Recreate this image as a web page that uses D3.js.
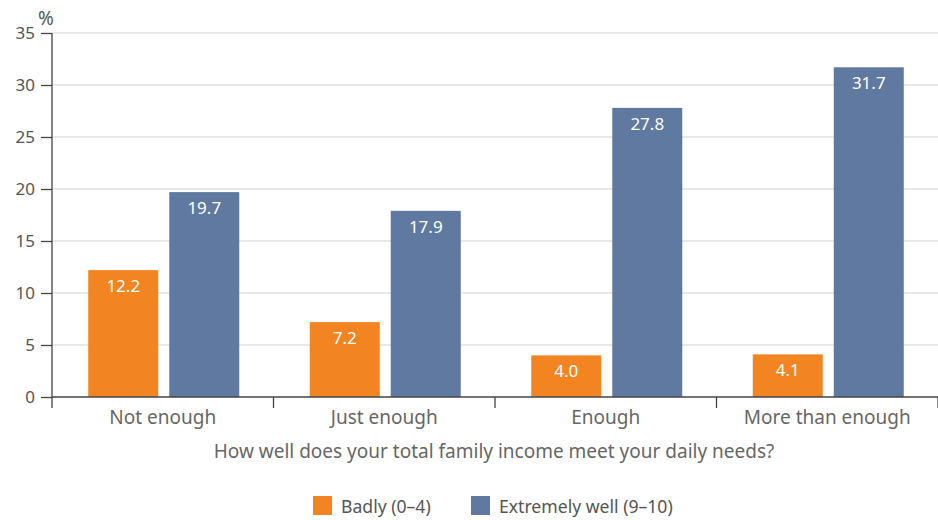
<!DOCTYPE html>
<html>
<head>
<meta charset="utf-8">
<script src="https://cdn.jsdelivr.net/npm/d3@7"></script>
<style>
  html, body { margin: 0; padding: 0; background: #fff; }
  svg { display: block; font-family: "Noto Sans", "Open Sans", sans-serif; }
</style>
</head>
<body>
<svg id="chart" width="938" height="520"></svg>
<script>
// Income adequacy categories and share (%) reporting each wellbeing level
const categories = ["Not enough", "Just enough", "Enough", "More than enough"];
const seriesNames = ["Badly (0–4)", "Extremely well (9–10)"];
const badly = [12.2, 7.2, 4.0, 4.1];
const extremelyWell = [19.7, 17.9, 27.8, 31.7];
const yTicks = [0, 5, 10, 15, 20, 25, 30, 35];
const colors = ["#F28421", "#5F79A0"];

const svg = d3.select("#chart");
const margin = { left: 52, right: 0, top: 33, bottom: 123 };
const width = 938, height = 520;
const plotBottom = height - margin.bottom;

const x = d3.scaleBand().domain(categories).range([margin.left, width - margin.right]).padding(0);
const y = d3.scaleLinear().domain([0, 35]).range([plotBottom, margin.top]);

const barW = 70, gap = 11;
const xs = d3.scaleOrdinal().domain(seriesNames).range([-(barW + gap / 2) + 1, gap / 2 + 1]);

// horizontal gridlines
svg.append("g")
  .selectAll("line")
  .data(yTicks.filter(d => d > 0))
  .join("line")
  .attr("x1", margin.left).attr("x2", width)
  .attr("y1", d => y(d)).attr("y2", d => y(d))
  .attr("stroke", "#d3d3d3").attr("stroke-width", 1.2);

// bars
const rows = categories.map((c, i) => ({ cat: c, values: [badly[i], extremelyWell[i]] }));
const groups = svg.append("g").selectAll("g")
  .data(rows).join("g")
  .attr("transform", d => `translate(${x(d.cat) + x.bandwidth() / 2},0)`);

groups.selectAll("rect")
  .data(d => d.values.map((v, j) => ({ v, s: seriesNames[j], j })))
  .join("rect")
  .attr("x", d => xs(d.s))
  .attr("width", barW)
  .attr("y", d => y(d.v))
  .attr("height", d => y(0) - y(d.v))
  .attr("fill", d => colors[d.j]);

groups.selectAll("text")
  .data(d => d.values.map((v, j) => ({ v, s: seriesNames[j], j })))
  .join("text")
  .attr("x", d => xs(d.s) + barW / 2)
  .attr("y", d => y(d.v) + 22)
  .attr("text-anchor", "middle")
  .attr("fill", "#fff")
  .attr("font-size", 17)
  .text(d => d.v.toFixed(1));

// y axis
const yAxis = d3.axisLeft(y).tickValues(yTicks).tickSize(11).tickPadding(6);
const gy = svg.append("g").attr("transform", `translate(${margin.left},0)`).call(yAxis);
gy.select(".domain").attr("stroke", "#444").attr("stroke-width", 1.3).attr("d", `M0,${y(35)}V${plotBottom + 11}`);
gy.selectAll(".tick line").attr("stroke", "#444").attr("stroke-width", 1.3);
gy.selectAll(".tick text").attr("fill", "#555").attr("font-size", 17).attr("font-family", "Noto Sans, sans-serif");

svg.append("text")
  .attr("x", 46).attr("y", 25)
  .attr("text-anchor", "middle")
  .attr("fill", "#555").attr("font-size", 19)
  .text("%");

// x axis baseline, category separators and labels
svg.append("line")
  .attr("x1", margin.left).attr("x2", width)
  .attr("y1", plotBottom).attr("y2", plotBottom)
  .attr("stroke", "#444").attr("stroke-width", 1.3);

const sepX = categories.map(c => x(c)).concat([x(categories[categories.length - 1]) + x.bandwidth()]);
svg.append("g").selectAll("line")
  .data(sepX.slice(1))
  .join("line")
  .attr("x1", d => d).attr("x2", d => d)
  .attr("y1", plotBottom).attr("y2", plotBottom + 11)
  .attr("stroke", "#444").attr("stroke-width", 1.3);

svg.append("g").selectAll("text")
  .data(categories)
  .join("text")
  .attr("x", d => x(d) + x.bandwidth() / 2)
  .attr("y", plotBottom + 27)
  .attr("text-anchor", "middle")
  .attr("fill", "#666")
  .attr("font-size", 19)
  .text(d => d);

svg.append("text")
  .attr("x", 494)
  .attr("y", 458)
  .attr("text-anchor", "middle")
  .attr("fill", "#666")
  .attr("font-size", 19)
  .text("How well does your total family income meet your daily needs?");

// legend
const legendX = [313, 471];
const legend = svg.append("g").selectAll("g")
  .data(seriesNames)
  .join("g")
  .attr("transform", (d, i) => `translate(${legendX[i]},496)`);
legend.append("rect").attr("width", 19).attr("height", 19).attr("fill", (d, i) => colors[i]);
legend.append("text")
  .attr("x", 28).attr("y", 17)
  .attr("fill", "#555").attr("font-size", 17.6)
  .text(d => d);
</script>
</body>
</html>
